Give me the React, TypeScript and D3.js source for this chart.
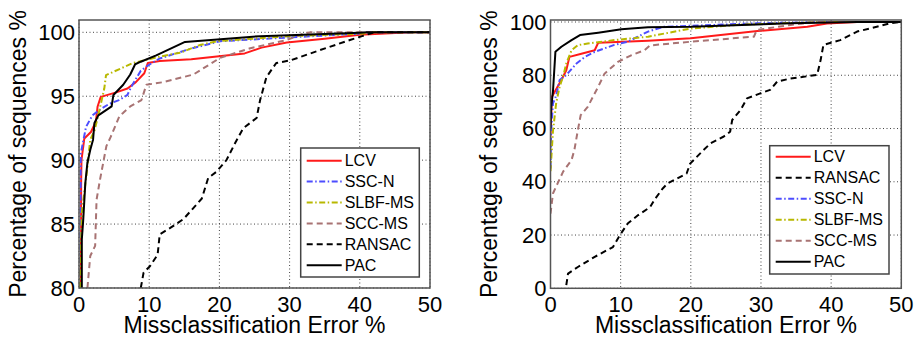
import React from "react";
import * as d3 from "d3";

type Pt = [number, number];

// left panel: error % vs percentage of sequences
const leftLCV: Pt[] = [[0.25, 80], [0.3, 84], [0.3, 88], [0.35, 90], [0.76, 91.7], [1.7, 92.2], [2.4, 93.0], [2.65, 94.2], [3.1, 94.95], [5.3, 95.3], [6.9, 95.6], [8.1, 96.1], [9.3, 96.8], [9.8, 97.6], [11.5, 97.75], [16, 97.9], [23.6, 98.35], [26, 98.8], [29.6, 99.2], [35, 99.5], [40, 99.8], [47.2, 100], [50, 100]];
const leftSSCN: Pt[] = [[0.15, 80], [0.2, 83.5], [0.25, 90.5], [1.0, 92.6], [1.9, 93.5], [3.1, 94.0], [4.3, 94.4], [5.7, 94.7], [6.9, 95.1], [7.4, 95.7], [8.8, 97.0], [9.8, 97.4], [11.5, 97.95], [15.8, 98.7], [20.1, 99.3], [30, 99.6], [40, 99.9], [41, 100], [50, 100]];
const leftSLBF: Pt[] = [[0.14, 80], [0.4, 85.9], [1.1, 89], [1.6, 91.6], [2.2, 92.3], [2.7, 93.4], [3.6, 95.6], [3.85, 96.65], [7.7, 97.6], [11.5, 98.1], [14.4, 98.4], [17.2, 99.0], [19.6, 99.3], [30, 99.7], [40.5, 99.9], [41.5, 100], [50, 100]];
const leftSCC: Pt[] = [[1.2, 80], [1.6, 82.5], [2.3, 83.3], [2.5, 86.9], [3.0, 88.5], [3.9, 91.1], [4.5, 91.8], [5.8, 93.5], [6.3, 93.7], [7.3, 94.2], [8.9, 94.7], [9.6, 95.9], [12, 96.1], [16.3, 96.7], [20.1, 98.0], [24.4, 98.75], [29.6, 99.4], [32, 99.9], [33, 100], [50, 100]];
const leftRANSAC: Pt[] = [[8.8, 80], [9.2, 81.2], [10.1, 81.7], [11.2, 82.6], [11.5, 84.2], [13, 84.7], [14.9, 85.4], [17.5, 87.0], [18.4, 88.6], [19.6, 89.1], [21, 90], [22.3, 91.4], [23.4, 92.5], [25.3, 93.3], [25.8, 94.7], [26.7, 96.5], [28.1, 97.6], [30.1, 97.8], [34.3, 98.6], [38.6, 99.4], [41.5, 99.9], [42, 100], [50, 100]];
const leftPAC: Pt[] = [[0.4, 80], [0.4, 83.8], [0.6, 85.3], [0.9, 88.2], [1.2, 89.8], [1.6, 90.8], [2.0, 91.6], [2.2, 92.9], [2.75, 93.5], [4.65, 94.2], [4.9, 95.1], [6.3, 95.9], [7.3, 96.7], [8.0, 97.5], [8.8, 97.7], [11, 98.2], [15.1, 99.25], [25.8, 99.7], [40, 99.97], [41, 100], [50, 100]];

// right panel
const rightLCV: Pt[] = [[0, 57], [0.1, 64.4], [0.2, 71.9], [1.55, 78.2], [2.25, 81.9], [2.7, 86.9], [4.4, 88.1], [6.3, 89.4], [6.8, 92.2], [13.9, 93.0], [20, 93.9], [29.5, 96.6], [36.6, 98.2], [39.4, 99.4], [43.7, 100], [50, 100]];
const rightSSCN: Pt[] = [[0, 45], [0.1, 59.4], [0.35, 69.4], [0.8, 72.3], [1.3, 78.2], [2.25, 80.1], [3.7, 84.4], [4.9, 86.9], [6.3, 88.8], [9.1, 91.4], [11, 92.6], [13.9, 96.4], [16.1, 98.2], [29.4, 99.5], [39, 100], [50, 100]];
const rightSLBF: Pt[] = [[0, 44], [0.35, 59], [0.8, 69.4], [1.3, 75.7], [1.8, 79.6], [2.25, 84.4], [3.0, 89.4], [3.9, 91.3], [5.3, 91.9], [9.1, 93.2], [13.9, 94.5], [19.9, 97.5], [27, 99], [34, 99.6], [39, 100], [50, 100]];
const rightSCC: Pt[] = [[0, 28], [0.35, 35.6], [1.1, 39.9], [1.8, 43.8], [3, 48.2], [3.4, 51.9], [3.9, 59.4], [4.3, 65], [5.3, 68.1], [6.8, 75.7], [7.7, 80.6], [9.6, 85], [11.5, 87.5], [13.4, 89.4], [14.2, 91.2], [20, 92.6], [29, 94.5], [29.4, 97], [34.2, 98.9], [38, 100], [50, 100]];
const rightRANSAC: Pt[] = [[2.25, 1.2], [2.5, 5.5], [3.9, 8.0], [6.3, 11.8], [8.9, 15.5], [9.9, 20], [11, 24.3], [12.5, 27.5], [14.2, 30.5], [14.8, 33.2], [16, 37.5], [16.7, 39.4], [19.4, 43.1], [19.9, 46.8], [21.8, 51.9], [22.8, 54.4], [24.7, 57], [25.6, 58.8], [25.9, 63.2], [27.1, 67], [28, 71.3], [29.9, 73.2], [31.3, 74.5], [32.3, 77.6], [34.2, 78.8], [38, 80.1], [38.5, 85.7], [38.9, 91.4], [41.3, 93.2], [43.7, 96.4], [46.5, 98.2], [48.4, 99.5], [50, 100]];
const rightPAC: Pt[] = [[0, 60], [0.1, 68], [0.35, 73.9], [0.7, 88.8], [1.55, 90.7], [3.0, 93.2], [4.2, 95.1], [6.8, 96], [10.1, 97.3], [13.9, 98.0], [20, 98.2], [34.2, 99.5], [43.7, 100], [50, 100]];

const xTicks = [0, 10, 20, 30, 40, 50];
const leftYTicks = [80, 85, 90, 95, 100];
const rightYTicks = [0, 20, 40, 60, 80, 100];
const leftOrder = ["LCV", "SSC-N", "SLBF-MS", "SCC-MS", "RANSAC", "PAC"];
const rightOrder = ["LCV", "RANSAC", "SSC-N", "SLBF-MS", "SCC-MS", "PAC"];

const styles: Record<string, { color: string; dash: string }> = {
  LCV: { color: "#ff1a1a", dash: "none" },
  "SSC-N": { color: "#4d4dff", dash: "6,2.5,1.5,2.5" },
  "SLBF-MS": { color: "#b8b800", dash: "6,2.5,1.5,2.5" },
  "SCC-MS": { color: "#a87373", dash: "6,4" },
  RANSAC: { color: "#000000", dash: "6,4" },
  PAC: { color: "#000000", dash: "none" },
};

const FONT = "'Liberation Sans', Arial, sans-serif";

type PanelProps = {
  id: string;
  x0: number; x1: number; yTop: number; yBottom: number; y100: number;
  yDomain: [number, number];
  yTicks: number[];
  series: Record<string, Pt[]>;
  order: string[];
  legend: { x: number; y: number; w: number; h: number; first: number; step: number };
  yLabelX: number;
};

const Panel = (p: PanelProps) => {
  const x = d3.scaleLinear().domain([0, 50]).range([p.x0, p.x1]);
  const y = d3.scaleLinear().domain(p.yDomain).range([p.yBottom, p.y100]);
  const line = d3.line<Pt>().x((d) => x(d[0])).y((d) => y(d[1]));
  const drawOrder = ["LCV", "SSC-N", "SLBF-MS", "SCC-MS", "RANSAC", "PAC"];
  const cx = (p.x0 + p.x1) / 2;
  const cy = (p.yTop + p.yBottom) / 2;
  return (
    <g fontFamily={FONT}>
      <defs>
        <clipPath id={p.id}>
          <rect x={p.x0} y={p.yTop} width={p.x1 - p.x0} height={p.yBottom - p.yTop} />
        </clipPath>
      </defs>
      <rect x={p.x0} y={p.yTop} width={p.x1 - p.x0} height={p.yBottom - p.yTop} fill="#fff" />
      {xTicks.map((t) => (
        <line key={"gx" + t} x1={x(t)} x2={x(t)} y1={p.yTop} y2={p.yBottom} stroke="#444" strokeWidth={1} strokeDasharray="1,2.5" />
      ))}
      {p.yTicks.map((t) => (
        <line key={"gy" + t} x1={p.x0} x2={p.x1} y1={y(t)} y2={y(t)} stroke="#444" strokeWidth={1} strokeDasharray="1,2.5" />
      ))}
      <g clipPath={`url(#${p.id})`}>
        {drawOrder.map((k) => (
          <path key={k} d={line(p.series[k]) || ""} fill="none" stroke={styles[k].color}
            strokeWidth={2} strokeDasharray={styles[k].dash} strokeLinejoin="round" />
        ))}
      </g>
      <rect x={p.x0} y={p.yTop} width={p.x1 - p.x0} height={p.yBottom - p.yTop} fill="none" stroke="#555" strokeWidth={1.5} />
      {xTicks.map((t) => (
        <text key={"tx" + t} x={x(t)} y={312} fontSize={22} textAnchor="middle">{t}</text>
      ))}
      {p.yTicks.map((t) => (
        <text key={"ty" + t} x={p.x0 - 4} y={y(t)} fontSize={22} textAnchor="end" dominantBaseline="central">{t}</text>
      ))}
      <text x={cx} y={333} fontSize={23} textAnchor="middle">Missclassification Error %</text>
      <text transform={`translate(${p.yLabelX},${cy}) rotate(-90)`} fontSize={23} textAnchor="middle">Percentage of sequences %</text>
      <rect x={p.legend.x} y={p.legend.y} width={p.legend.w} height={p.legend.h} fill="#fff" stroke="#444" strokeWidth={1.5} />
      {p.order.map((k, i) => {
        const ly = p.legend.first + i * p.legend.step;
        return (
          <g key={"lg" + k}>
            <line x1={p.legend.x + 6} x2={p.legend.x + 41} y1={ly} y2={ly} stroke={styles[k].color}
              strokeWidth={2} strokeDasharray={styles[k].dash} />
            <text x={p.legend.x + 44} y={ly} fontSize={16} dominantBaseline="central">{k}</text>
          </g>
        );
      })}
    </g>
  );
};

const App = () => {
  return (
    <svg width={917} height={338} style={{ position: "absolute", left: 0, top: 0, background: "#fff" }}>
      <rect width={917} height={338} fill="#fff" />
      <Panel
        id="clipL" x0={79} x1={430} yTop={20} yBottom={288} y100={32.3}
        yDomain={[80, 100]} yTicks={leftYTicks}
        series={{ LCV: leftLCV, "SSC-N": leftSSCN, "SLBF-MS": leftSLBF, "SCC-MS": leftSCC, RANSAC: leftRANSAC, PAC: leftPAC }}
        order={leftOrder}
        legend={{ x: 300.7, y: 148, w: 118.6, h: 129, first: 160.7, step: 20.9 }}
        yLabelX={26}
      />
      <Panel
        id="clipR" x0={550.5} x1={901.3} yTop={20} yBottom={288.3} y100={22}
        yDomain={[0, 100]} yTicks={rightYTicks}
        series={{ LCV: rightLCV, "SSC-N": rightSSCN, "SLBF-MS": rightSLBF, "SCC-MS": rightSCC, RANSAC: rightRANSAC, PAC: rightPAC }}
        order={rightOrder}
        legend={{ x: 769.7, y: 145.7, w: 119.3, h: 128.3, first: 156.7, step: 21 }}
        yLabelX={497}
      />
    </svg>
  );
};

export default App;
